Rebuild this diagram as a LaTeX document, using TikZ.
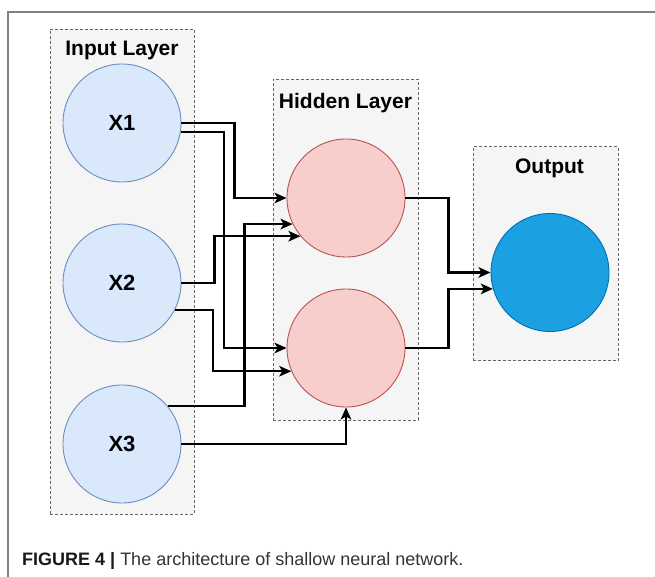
\documentclass[tikz,border=0pt]{standalone}
\usepackage{fontspec}
\setmainfont{Liberation Sans}
\usetikzlibrary{positioning,arrows.meta}
\definecolor{inblue}{HTML}{DAE8FC}
\definecolor{inedge}{HTML}{6C8EBF}
\definecolor{hidred}{HTML}{F8CECC}
\definecolor{hidedge}{HTML}{B85450}
\definecolor{outblue}{HTML}{1BA1E2}
\definecolor{outedge}{HTML}{006EAF}
\definecolor{boxfill}{HTML}{F5F5F5}
\definecolor{boxgray}{HTML}{666666}
\definecolor{framegray}{HTML}{808080}

\begin{document}
\begin{tikzpicture}[x=1pt,y=-1pt,
  layerbox/.style={draw=boxgray, dash pattern=on 3pt off 2pt, line width=0.9pt,
                   fill=boxfill, inner sep=0pt},
  title/.style={font=\fontsize{21}{25}\selectfont\bfseries, inner sep=0pt},
  neuron/.style={circle, minimum size=118pt, inner sep=0pt, line width=0.9pt,
                 font=\fontsize{22}{26}\selectfont\bfseries},
  innode/.style={neuron, draw=inedge, fill=inblue},
  hidnode/.style={neuron, draw=hidedge, fill=hidred},
  outnode/.style={neuron, draw=outedge, fill=outblue},
  arr/.style={-{Stealth[length=12pt,width=10.5pt,inset=3pt]}, line width=2.2pt}
]
\useasboundingbox (0,0) rectangle (655,577);
% outer frame
\draw[framegray, line width=1.4pt] (8,577) -- (8,12) -- (655,12);

% layer boxes
\node[layerbox, minimum width=144pt, minimum height=485pt] (inbox) at (122,271.5) {};
\node[layerbox, minimum width=145pt, minimum height=341pt] (hidbox) at (345.5,249.5) {};
\node[layerbox, minimum width=145pt, minimum height=214pt] (outbox) at (545.5,253.7) {};
\node[title, below=12pt of inbox.north] (intitle) {Input Layer};
\node[title, below=15pt of hidbox.north] (hidtitle) {Hidden Layer};
\node[title, below=12pt of outbox.north, xshift=4pt] (outtitle) {Output};

% neurons
\node[innode] (x1) at (122,123) {X1};
\node[innode] (x2) at (122,283) {X2};
\node[innode] (x3) at (122,444) {X3};
\node[hidnode] (h1) at (346,198) {};
\node[hidnode] (h2) at (346,348) {};
\node[outnode] (out) at (550,272.5) {};

% input -> hidden
\draw[arr] (x1.east) -- ++(53,0) |- (h1.west);
\draw[arr] (x1.-9) -- ++(43,0) |- (h2.west);
\draw[arr] (x2.east) -- ++(33,0) |- (h1.220);
\draw[arr] (x2.-27) -- ++(38,0) |- (h2.203);
\draw[arr] (x3.40) -- ++(77,0) |- (h1.206);
\draw[arr] (x3.east) -| (h2.south);
% hidden -> output
\draw[arr] (h1.east) -- ++(43,0) |- (out.west);
\draw[arr] (h2.east) -- ++(43,0) |- (out.196);

% caption
\node[anchor=base west, inner sep=0pt, font=\fontsize{18}{22}\selectfont, text=black!80]
  (caption) at (22,565) {\textbf{\color{black!90}FIGURE 4 | }The architecture of shallow neural network.};
\end{tikzpicture}
\end{document}
